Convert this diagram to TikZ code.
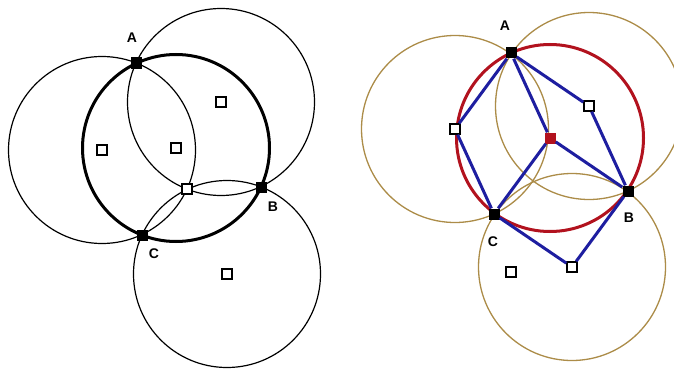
\documentclass[tikz,border=0pt]{standalone}
\usepackage{fontspec}
\setmainfont{Liberation Sans}
\definecolor{gold}{RGB}{172,140,72}
\definecolor{dred}{RGB}{178,18,30}
\definecolor{dblue}{RGB}{30,30,160}
\tikzset{
  thin circ/.style={draw=black, line width=1.2pt},
  thick circ/.style={draw=black, line width=3pt},
  gold circ/.style={draw=gold, line width=1.3pt},
  red circ/.style={draw=dred, line width=3pt},
  blue line/.style={draw=dblue, line width=3pt},
  blacksq/.style={rectangle, fill=black, minimum size=11pt, inner sep=0pt},
  hollowsq/.style={rectangle, draw=black, fill=white, line width=1.4pt, minimum size=10pt, inner sep=0pt},
  redsq/.style={rectangle, fill=dred, minimum size=11pt, inner sep=0pt},
  lbl/.style={font=\fontsize{14}{16}\selectfont\bfseries, inner sep=0pt}
}
\begin{document}
\begin{tikzpicture}[x=1pt,y=-1pt]
\useasboundingbox (0,0) rectangle (674,369);
\fill[white] (0,0) rectangle (674,369);
% ---------------- left figure ----------------
\coordinate (LO1) at (102,150);
\coordinate (LO2) at (221,102);
\coordinate (LO3) at (227,274);
\coordinate (LO) at (176,148);
\draw[thin circ] (LO1) circle[radius=93.5pt];
\draw[thin circ] (LO2) circle[radius=93.5pt];
\draw[thin circ] (LO3) circle[radius=93.5pt];
\draw[thick circ] (LO) circle[radius=93.5pt];
\node[blacksq] (LA) at (136,63) {};
\node[blacksq] (LB) at (261,187) {};
\node[blacksq] (LC) at (142,235) {};
\node[hollowsq] (LH) at (187,189) {};
\node[hollowsq] (LS1) at (LO1) {};
\node[hollowsq] (LS2) at (LO2) {};
\node[hollowsq] (LS3) at (LO3) {};
\node[hollowsq] (LSO) at (LO) {};
\node[lbl] (LAl) at (132,38) {A};
\node[lbl] (LBl) at (273,207) {B};
\node[lbl] (LCl) at (154,254) {C};
% ---------------- right figure ----------------
\coordinate (RO1) at (455,129);
\coordinate (RO2) at (589,106);
\coordinate (RO3) at (572,267);
\coordinate (RO) at (550,138);
\draw[gold circ] (RO1) circle[radius=93.5pt];
\draw[gold circ] (RO2) circle[radius=93.5pt];
\draw[gold circ] (RO3) circle[radius=93.5pt];
\draw[red circ] (RO) circle[radius=93.5pt];
\node[blacksq] (RA) at (511,53) {};
\node[blacksq] (RB) at (628,191) {};
\node[blacksq] (RC) at (494,214) {};
\node[hollowsq] (RS1) at (RO1) {};
\node[hollowsq] (RS2) at (RO2) {};
\node[hollowsq] (RS3) at (RO3) {};
\node[redsq] (RSO) at (RO) {};
\node[hollowsq] (RX) at (511,272) {};
\draw[blue line] (RA) -- (RS1) -- (RC);
\draw[blue line] (RA) -- (RSO);
\draw[blue line] (RA) -- (RS2) -- (RB);
\draw[blue line] (RSO) -- (RB);
\draw[blue line] (RSO) -- (RC);
\draw[blue line] (RC) -- (RS3) -- (RB);
\node[lbl] (RAl) at (505,26) {A};
\node[lbl] (RBl) at (629,218) {B};
\node[lbl] (RCl) at (493,242) {C};
\end{tikzpicture}
\end{document}
